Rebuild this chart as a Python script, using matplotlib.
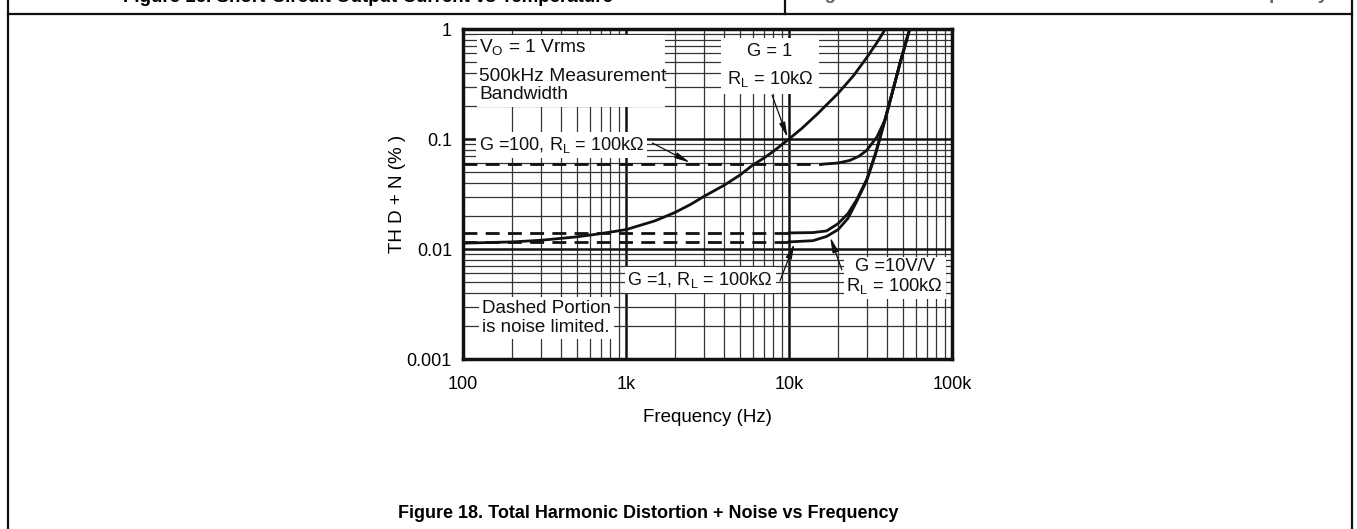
import matplotlib
matplotlib.use("Agg")
import matplotlib.pyplot as plt
import matplotlib.ticker as mticker
from matplotlib.lines import Line2D
from matplotlib.patches import Rectangle
import numpy as np

plt.rcParams['font.family'] = ['Liberation Sans', 'DejaVu Sans']
plt.rcParams['mathtext.fontset'] = 'custom'
plt.rcParams['mathtext.rm'] = 'Liberation Sans'
plt.rcParams['mathtext.it'] = 'Liberation Sans'

# G = 1, RL = 10k (solid)
freq_g1_10k = [100, 200, 300, 500, 700, 1000, 1500, 2000, 2500, 3000, 4000, 5000,
               6000, 7000, 8000, 10000, 12000, 15000, 20000, 25000, 30000, 35000, 39000]
thd_g1_10k = [0.0113, 0.0116, 0.0120, 0.0129, 0.0138, 0.0150, 0.0180, 0.0215, 0.0255,
              0.030, 0.038, 0.047, 0.058, 0.067, 0.077, 0.100, 0.125, 0.17, 0.26,
              0.38, 0.55, 0.77, 1.0]

# G = 100, RL = 100k
freq_g100_dash = [100, 16000]
thd_g100_dash = [0.059, 0.059]
freq_g100 = [16000, 20000, 23700, 27000, 30000, 34600, 38800, 44000, 48000, 55000]
thd_g100 = [0.059, 0.0605, 0.064, 0.070, 0.079, 0.104, 0.149, 0.30, 0.49, 1.0]

# G = 10 V/V, RL = 100k
freq_g10_dash = [100, 10000]
thd_g10_dash = [0.014, 0.014]
freq_g10 = [10000, 14000, 17000, 20000, 23000, 26000, 30000, 34000, 38800, 44000, 48000, 55000]
thd_g10 = [0.014, 0.0141, 0.0146, 0.017, 0.021, 0.028, 0.043, 0.075, 0.15, 0.30, 0.49, 1.0]

# G = 1, RL = 100k
freq_g1_dash = [100, 10000]
thd_g1_dash = [0.0116, 0.0116]
freq_g1 = [10000, 14000, 17000, 20000, 23000, 26000, 30000, 34000, 38800, 44000, 48000, 55000]
thd_g1 = [0.0116, 0.0119, 0.0130, 0.015, 0.019, 0.027, 0.042, 0.073, 0.148, 0.30, 0.49, 1.0]

x_ticks = [100, 1000, 10000, 100000]
x_labels = ['100', '1k', '10k', '100k']
y_ticks = [0.001, 0.01, 0.1, 1]
y_labels = ['0.001', '0.01', '0.1', '1']

W, H = 1357, 529
fig = plt.figure(figsize=(W / 100, H / 100), dpi=100)
ax = fig.add_axes([463 / W, 1 - 359 / H, 489 / W, 330 / H])

ax.set_xscale('log')
ax.set_yscale('log')
ax.set_xlim(100, 100000)
ax.set_ylim(0.001, 1)

lw = 2.0
dash = (0, (5, 3))
ax.plot(freq_g1_10k, thd_g1_10k, color='#111', lw=lw, zorder=4)
ax.plot(freq_g100_dash, thd_g100_dash, color='#111', lw=lw, ls=dash, zorder=4)
ax.plot(freq_g100, thd_g100, color='#111', lw=lw, zorder=4)
ax.plot(freq_g10_dash, thd_g10_dash, color='#111', lw=lw, ls=dash, zorder=4)
ax.plot(freq_g10, thd_g10, color='#111', lw=lw, zorder=4)
ax.plot(freq_g1_dash, thd_g1_dash, color='#111', lw=lw, ls=dash, zorder=4)
ax.plot(freq_g1, thd_g1, color='#111', lw=lw, zorder=4)

ax.xaxis.set_major_locator(mticker.FixedLocator(x_ticks))
ax.yaxis.set_major_locator(mticker.FixedLocator(y_ticks))
ax.xaxis.set_minor_locator(mticker.LogLocator(base=10, subs=np.arange(2, 10), numticks=20))
ax.yaxis.set_minor_locator(mticker.LogLocator(base=10, subs=np.arange(2, 10), numticks=20))
ax.xaxis.set_minor_formatter(mticker.NullFormatter())
ax.yaxis.set_minor_formatter(mticker.NullFormatter())
ax.set_xticklabels(x_labels)
ax.set_yticklabels(y_labels)
ax.tick_params(which='both', length=0)
ax.tick_params(axis='x', pad=12, labelsize=13)
ax.tick_params(axis='y', pad=8, labelsize=13)

ax.grid(which='major', color='#111', lw=1.8, zorder=1)
ax.grid(which='minor', color='#333', lw=0.9, zorder=1)
ax.set_axisbelow(True)
for s in ax.spines.values():
    s.set_linewidth(2.5)
    s.set_color('#111')
    s.set_zorder(6)

ax.set_xlabel('Frequency (Hz)', fontsize=13.5, labelpad=12)
fig.text(398 / W, 1 - 194 / H, 'TH D + N (% )', rotation=90, fontsize=13.5,
         ha='center', va='center')

box = dict(facecolor='white', edgecolor='none', pad=2)
tkw = dict(transform=ax.transAxes, color='#111', zorder=5)

# top-left note block
ax.add_patch(Rectangle((0.0286, 0.7636), 0.3845, 0.218, transform=ax.transAxes,
                       facecolor='white', edgecolor='none', zorder=3))
ax.text(0.033, 0.945, 'V$_\\mathregular{O}$ = 1 Vrms', ha='left', va='center',
        fontsize=13.8, **tkw)
ax.text(0.033, 0.829, '500kHz Measurement\nBandwidth', ha='left', va='center',
        linespacing=1.12, fontsize=13.8, **tkw)

ax.text(0.033, 0.648, 'G =100, R$_\\mathregular{L}$ = 100k\u03a9', ha='left', va='center',
        fontsize=13.1, bbox=box, **tkw)
ax.text(0.628, 0.889, 'G = 1\nR$_\\mathregular{L}$ = 10k\u03a9', ha='center', va='center',
        multialignment='center', linespacing=1.6, fontsize=13.2,
        bbox=dict(facecolor='white', edgecolor='none', pad=4), **tkw)
ax.text(0.485, 0.239, 'G =1, R$_\\mathregular{L}$ = 100k\u03a9', ha='center', va='center',
        fontsize=13.1, bbox=box, **tkw)
ax.text(0.883, 0.248, 'G =10V/V\nR$_\\mathregular{L}$ = 100k\u03a9', ha='center', va='center',
        multialignment='center', linespacing=1.05, fontsize=13.2, bbox=box, **tkw)
ax.text(0.039, 0.124, 'Dashed Portion\nis noise limited.', ha='left', va='center',
        linespacing=1.12, fontsize=13.5, bbox=box, **tkw)

akw = dict(arrowstyle='-|>,head_length=0.9,head_width=0.18', color='#111', lw=0.9,
           shrinkA=0, shrinkB=0)
ax.annotate('', xy=(2470, 0.061), xytext=(1450, 0.092), arrowprops=akw, zorder=6)
ax.annotate('', xy=(9800, 0.103), xytext=(7870, 0.251), arrowprops=akw, zorder=6)
ax.annotate('', xy=(10800, 0.0112), xytext=(8800, 0.00512), arrowprops=akw, zorder=6)
ax.annotate('', xy=(17900, 0.0128), xytext=(21100, 0.00645), arrowprops=akw, zorder=6)

# page frame
def fline(x0, y0, x1, y1):
    fig.add_artist(Line2D([x0 / W, x1 / W], [1 - y0 / H, 1 - y1 / H],
                          transform=fig.transFigure, color='#111', lw=1.6))

fline(8, 0, 8, H)
fline(1352, 0, 1352, H)
fline(8, 14, 1352, 14)
fline(785, 0, 785, 14)

fig.text(368 / W, 1 - 2 / H, 'Figure 16. Short-Circuit Output Current vs Temperature',
         ha='center', va='baseline', fontsize=13.5, weight='bold')
fig.text(1068 / W, 1 + 1 / H, 'Figure 17. Total Harmonic Distortion + Noise vs Frequency',
         ha='center', va='baseline', fontsize=13.5, weight='bold', color='#666')
fig.text(648 / W, 1 - 513 / H, 'Figure 18. Total Harmonic Distortion + Noise vs Frequency',
         ha='center', va='center', fontsize=13.0, weight='bold')

fig.savefig('out.png', dpi=100)
